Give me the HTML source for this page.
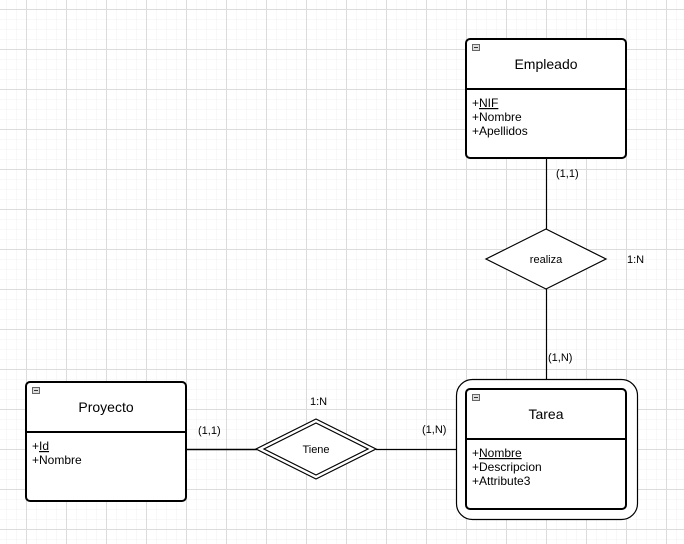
<!DOCTYPE html>
<html><head><meta charset="utf-8"><style>
html,body{margin:0;padding:0;background:#fff}
svg{display:block}
text{font-family:"Liberation Sans",sans-serif;fill:#000}
</style></head><body>
<svg width="684" height="544" viewBox="0 0 684 544" xmlns="http://www.w3.org/2000/svg">
<defs>
<pattern id="minor" width="10" height="10" patternUnits="userSpaceOnUse" x="6" y="9">
<path d="M0 0H10M0 0V10" stroke="#f1f1f1" stroke-width="1" fill="none"/>
</pattern>
<pattern id="major" width="40" height="40" patternUnits="userSpaceOnUse" x="26" y="9">
<path d="M0 0.5H40M0.5 0V40" stroke="#dcdcdc" stroke-width="1" fill="none"/>
</pattern>
</defs>
<rect width="684" height="544" fill="#fff"/>
<rect width="684" height="544" fill="url(#minor)"/>
<rect width="684" height="544" fill="url(#major)"/>

<!-- connectors -->
<g stroke="#000" stroke-width="1.2" fill="none">
<line x1="546.5" y1="158" x2="546.5" y2="229"/>
<line x1="546.5" y1="289" x2="546.5" y2="379"/>
<line x1="186" y1="449.5" x2="257" y2="449.5" stroke-width="1.5"/>
<line x1="376" y1="449.5" x2="456" y2="449.5"/>
</g>

<!-- Empleado -->
<rect x="466" y="39" width="160" height="119" rx="4" fill="#fff" stroke="#000" stroke-width="2"/>
<line x1="466" y1="89" x2="626" y2="89" stroke="#000" stroke-width="2"/>
<rect x="472.5" y="44.5" width="7" height="6" fill="#ddd" stroke="#666"/>
<line x1="474" y1="47.5" x2="478" y2="47.5" stroke="#333"/>
<text x="546" y="69" font-size="14" text-anchor="middle">Empleado</text>
<text x="472" y="107" font-size="12">+<tspan text-decoration="underline">NIF</tspan></text>
<text x="472" y="121" font-size="12">+Nombre</text>
<text x="472" y="135" font-size="12">+Apellidos</text>

<!-- Proyecto -->
<rect x="26" y="382" width="160" height="119" rx="4" fill="#fff" stroke="#000" stroke-width="2"/>
<line x1="26" y1="432" x2="186" y2="432" stroke="#000" stroke-width="2"/>
<rect x="32.5" y="387.5" width="7" height="6" fill="#ddd" stroke="#666"/>
<line x1="34" y1="390.5" x2="38" y2="390.5" stroke="#333"/>
<text x="106" y="412" font-size="14" text-anchor="middle">Proyecto</text>
<text x="32" y="450" font-size="12">+<tspan text-decoration="underline">Id</tspan></text>
<text x="32" y="464" font-size="12">+Nombre</text>

<!-- Tarea -->
<rect x="456.5" y="379.5" width="181" height="140" rx="16" fill="#fff" stroke="#000" stroke-width="1.2"/>
<rect x="466" y="389" width="160" height="120" rx="4" fill="#fff" stroke="#000" stroke-width="2"/>
<line x1="466" y1="439" x2="626" y2="439" stroke="#000" stroke-width="2"/>
<rect x="472.5" y="394.5" width="7" height="6" fill="#ddd" stroke="#666"/>
<line x1="474" y1="397.5" x2="478" y2="397.5" stroke="#333"/>
<text x="546" y="419" font-size="14" text-anchor="middle">Tarea</text>
<text x="472" y="457" font-size="12">+<tspan text-decoration="underline">Nombre</tspan></text>
<text x="472" y="471" font-size="12">+Descripcion</text>
<text x="472" y="485" font-size="12">+Attribute3</text>

<!-- realiza -->
<polygon points="546,229 606,259 546,289 486,259" fill="#fff" stroke="#000" stroke-width="1.2"/>
<text x="546" y="263" font-size="11" text-anchor="middle">realiza</text>

<!-- Tiene -->
<polygon points="316,419 376,449 316,479 256,449" fill="#fff" stroke="#000" stroke-width="1.2"/>
<polygon points="316,423 368,449 316,475 264,449" fill="none" stroke="#000" stroke-width="1.2"/>
<text x="316" y="453" font-size="11" text-anchor="middle">Tiene</text>

<!-- labels -->
<g font-size="11">
<text x="556" y="177">(1,1)</text>
<text x="627" y="263">1:N</text>
<text x="548" y="361">(1,N)</text>
<text x="310" y="405">1:N</text>
<text x="198" y="434">(1,1)</text>
<text x="422" y="433">(1,N)</text>
</g>
</svg>
</body></html>
